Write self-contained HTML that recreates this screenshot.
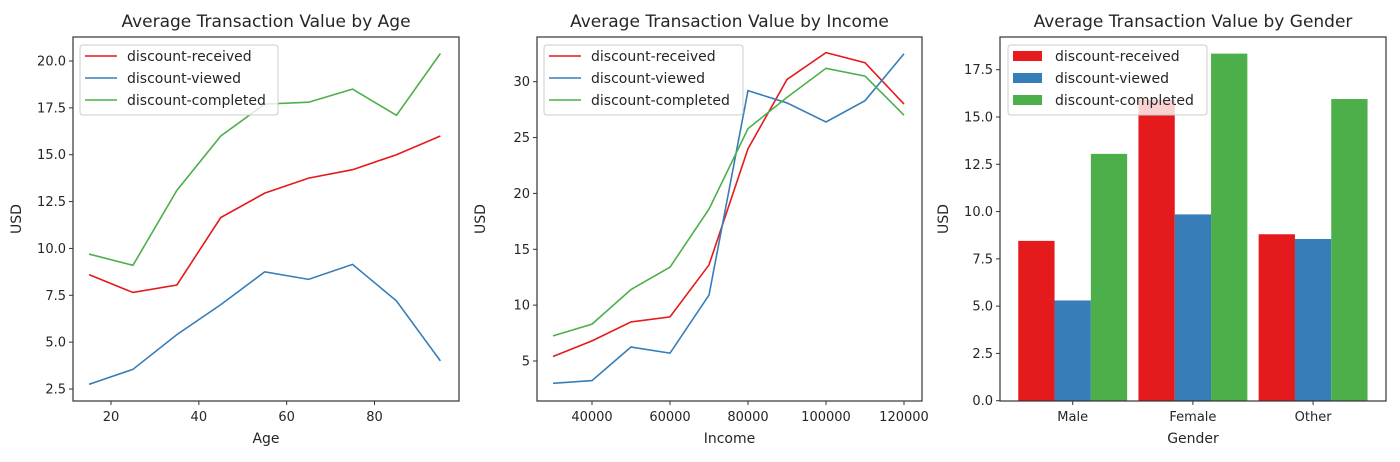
<!DOCTYPE html>
<html><head><meta charset="utf-8"><style>
body{margin:0;background:#fff;}
svg{display:block;font-family:"DejaVu Sans","Liberation Sans",sans-serif;}
</style></head><body>
<svg id="s" width="1400" height="462" viewBox="0 0 1400 462"></svg>
<script>
const ages=[15,25,35,45,55,65,75,85,95];
const ageReceived=[8.6,7.65,8.05,11.65,12.95,13.75,14.2,15.0,16.0];
const ageViewed=[2.75,3.55,5.4,7.0,8.75,8.35,9.15,7.2,4.0];
const ageCompleted=[9.7,9.1,13.1,16.0,17.7,17.8,18.5,17.1,20.4];
const ageXTicks=[20,40,60,80];
const ageYTicks=[2.5,5.0,7.5,10.0,12.5,15.0,17.5,20.0];
const incomes=[30000,40000,50000,60000,70000,80000,90000,100000,110000,120000];
const incReceived=[5.4,6.8,8.5,8.95,13.6,24.0,30.2,32.6,31.7,28.0];
const incViewed=[3.0,3.25,6.25,5.7,10.9,29.2,28.1,26.4,28.3,32.5];
const incCompleted=[7.25,8.3,11.4,13.4,18.6,25.8,28.6,31.2,30.5,27.0];
const incXTicks=[40000,60000,80000,100000,120000];
const incYTicks=[5,10,15,20,25,30];
const genders=["Male","Female","Other"];
const genReceived=[8.45,15.9,8.8];
const genViewed=[5.3,9.85,8.55];
const genCompleted=[13.05,18.35,15.95];
const genYTicks=[0.0,2.5,5.0,7.5,10.0,12.5,15.0,17.5];
const seriesNames=["discount-received","discount-viewed","discount-completed"];
const colors=["#e41a1c","#377eb8","#4daf4a"];

const NS="http://www.w3.org/2000/svg";
const svg=document.getElementById('s');
function mk(tag,attrs,parent,text){const e=document.createElementNS(NS,tag);for(const k in attrs)e.setAttribute(k,attrs[k]);if(text!==undefined)e.textContent=text;(parent||svg).appendChild(e);return e;}
function lin(d0,d1,r0,r1){return v=>r0+(v-d0)*(r1-r0)/(d1-d0);}
const TOP=37,BOT=401;

function frame(g,x0,x1,title,xlabel,xticks,xs,yticks,ys,fmtY,fmtX){
  const t=mk('text',{x:(x0+x1)/2,y:27,'text-anchor':'middle','font-size':'17',fill:'#262626'},g,title);
  
  
  yticks.forEach(v=>{const y=ys(v);
    mk('line',{x1:x0-4,x2:x0,y1:y,y2:y,stroke:'#333'},g);
    const l=mk('text',{x:x0-7,y:y+4.5,'text-anchor':'end','font-size':'13',fill:'#262626'},g,fmtY(v));
    
    });
  xticks.forEach((v,i)=>{const x=xs(v);
    mk('line',{x1:x,x2:x,y1:BOT,y2:BOT+4,stroke:'#333'},g);
    const l=mk('text',{x:x,y:BOT+20,'text-anchor':'middle','font-size':'13',fill:'#262626'},g,fmtX(v,i));
    
    });
  const xl=mk('text',{x:(x0+x1)/2,y:BOT+42,'text-anchor':'middle','font-size':'14',fill:'#262626'},g,xlabel);
  
  
  const yl=mk('text',{x:0,y:0,'text-anchor':'middle','font-size':'14',fill:'#262626',transform:`translate(${x0-52},${(TOP+BOT)/2}) rotate(-90)`},g,'USD');
  
  
}
function border(g,x0,x1){const r=mk('rect',{x:x0,y:TOP,width:x1-x0,height:BOT-TOP,fill:'none',stroke:'#333','stroke-width':1.2},g);
  
  }
function legend(g,x,w,bars){
  const lg=mk('g',{},g);
  
  
  mk('rect',{x:x,y:45,width:w,height:70,rx:3,fill:'#fff','fill-opacity':0.8,stroke:'#ccc'},lg);
  seriesNames.forEach((n,i)=>{const y=56+i*22;
    const e=mk('g',{},lg);
    
    
    if(bars) mk('rect',{x:x+5,y:y-5,width:29,height:10,fill:colors[i]},e);
    else mk('line',{x1:x+5,x2:x+37,y1:y,y2:y,stroke:colors[i],'stroke-width':1.6},e);
    mk('text',{x:x+47,y:y+5,'font-size':'14',fill:'#262626'},e,n);});
}
function lines(g,xsArr,ser,xs,ys){
  ser.forEach((vals,i)=>{const p=mk('polyline',{points:vals.map((v,j)=>xs(xsArr[j])+','+ys(v)).join(' '),fill:'none',stroke:colors[i],'stroke-width':1.6},g);
    
    });
}
{const g=mk('g',{});
 const x0=73,x1=459;const xs=lin(20,80,111,374.5);const ys=lin(2.5,20,389,61);
 frame(g,x0,x1,'Average Transaction Value by Age','Age',ageXTicks,xs,ageYTicks,ys,v=>v.toFixed(1),v=>String(v));
 lines(g,ages,[ageReceived,ageViewed,ageCompleted],xs,ys);
 border(g,x0,x1);legend(g,80,198,false);}
{const g=mk('g',{});
 const x0=537,x1=922;const xs=lin(40000,120000,592,904);const ys=lin(5,30,361,81.7);
 frame(g,x0,x1,'Average Transaction Value by Income','Income',incXTicks,xs,incYTicks,ys,v=>String(v),v=>String(v));
 lines(g,incomes,[incReceived,incViewed,incCompleted],xs,ys);
 border(g,x0,x1);legend(g,544,199,false);}
{const g=mk('g',{});
 const x0=1000,x1=1386;const xs=i=>1072.7+i*120.2;const ys=lin(0,17.5,400.7,69.7);
 frame(g,x0,x1,'Average Transaction Value by Gender','Gender',genders.map((_,i)=>i),xs,genYTicks,ys,v=>v.toFixed(1),(v,i)=>genders[i]);
 const bw=36.3;
 [genReceived,genViewed,genCompleted].forEach((vals,s)=>{vals.forEach((v,i)=>{
   const r=mk('rect',{x:xs(i)+(s-1.5)*bw,y:ys(v),width:bw,height:ys(0)-ys(v),fill:colors[s]},g);
   
   });});
 border(g,x0,x1);legend(g,1008,199,true);}
</script>
</body></html>
